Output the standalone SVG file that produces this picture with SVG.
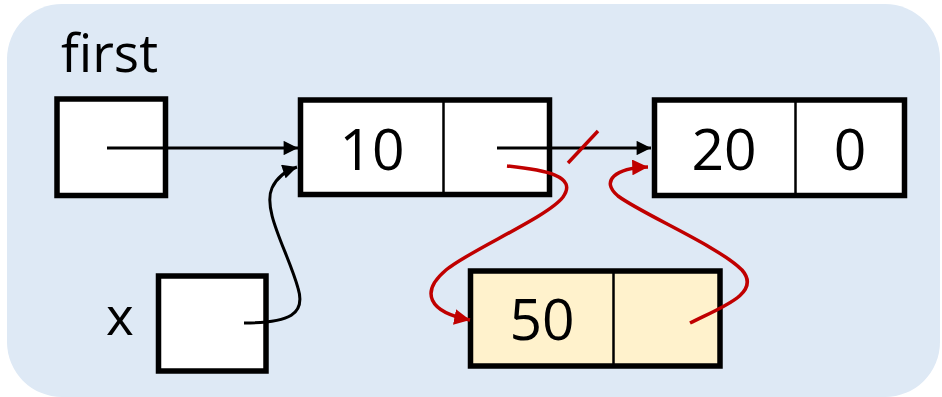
<svg xmlns="http://www.w3.org/2000/svg" width="942" height="397" viewBox="0 0 942 397">
<defs>
<style>
.box{fill:#fff;stroke:#000;stroke-width:5.5}
.new{fill:#FFF2CC;stroke:#000;stroke-width:5.5}
.div{stroke:#000;stroke-width:2.5}
.t{font-family:"Open Sans","Noto Sans",sans-serif;fill:#000}
.num{font-size:57px;text-anchor:middle}
.lab{font-size:53px}
.blk{fill:none;stroke:#000;stroke-width:3}
.red{fill:none;stroke:#C00000;stroke-width:3.5}
</style>
<marker id="ab" viewBox="0 0 10 10" refX="10" refY="5" markerWidth="5" markerHeight="4.8" markerUnits="strokeWidth" orient="auto"><path d="M0,0 L10,5 L0,10 z" fill="#000"/></marker>
<marker id="ar" viewBox="0 0 10 10" refX="10" refY="5" markerWidth="4.5" markerHeight="4.5" markerUnits="strokeWidth" orient="auto"><path d="M0,0 L10,5 L0,10 z" fill="#C00000"/></marker>
</defs>
<rect x="7" y="4" width="933" height="393" rx="55" fill="#DEE9F5"/>
<text class="t lab" x="61" y="72">first</text>
<text class="t lab" x="106" y="335">x</text>
<g id="first">
<rect class="box" x="57" y="99" width="108.5" height="96.5"/>
</g>
<g id="xvar">
<rect class="box" x="158.5" y="276" width="107.5" height="95"/>
</g>
<g id="node10">
<rect class="box" x="300.5" y="100" width="249" height="94.5"/>
<line class="div" x1="443.5" y1="100" x2="443.5" y2="194.5"/>
<text class="t num" x="372" y="170">10</text>
</g>
<g id="node20">
<rect class="box" x="654.5" y="100" width="250" height="95.5"/>
<line class="div" x1="795.5" y1="100" x2="795.5" y2="195.5"/>
<text class="t num" x="724" y="170">20</text>
<text class="t num" x="850" y="170">0</text>
</g>
<g id="node50">
<rect class="new" x="470.5" y="271" width="249.5" height="95"/>
<line class="div" x1="613.5" y1="271" x2="613.5" y2="366"/>
<text class="t num" x="542" y="340">50</text>
</g>
<g id="connectors">
<line class="blk" x1="107" y1="148" x2="298" y2="148" marker-end="url(#ab)"/>
<path class="blk" d="M244,323 C290,323 306,314 298,288 C288,252 262,210 272,188 C277,177 285,171 297,167" marker-end="url(#ab)"/>
<line class="blk" x1="497" y1="148" x2="651" y2="148" marker-end="url(#ab)"/>
<line x1="568" y1="163" x2="598" y2="131" stroke="#C00000" stroke-width="3.5"/>
<path class="red" d="M507,166 C545,170 578,176 563,197 C548,217 470,250 446,270 C420,292 428,312 470,320" marker-end="url(#ar)"/>
<path class="red" d="M690,323 C722,307 762,293 742,270 C718,246 642,214 618,196 C600,181 615,168 648,167" marker-end="url(#ar)"/>
</g>
</svg>
